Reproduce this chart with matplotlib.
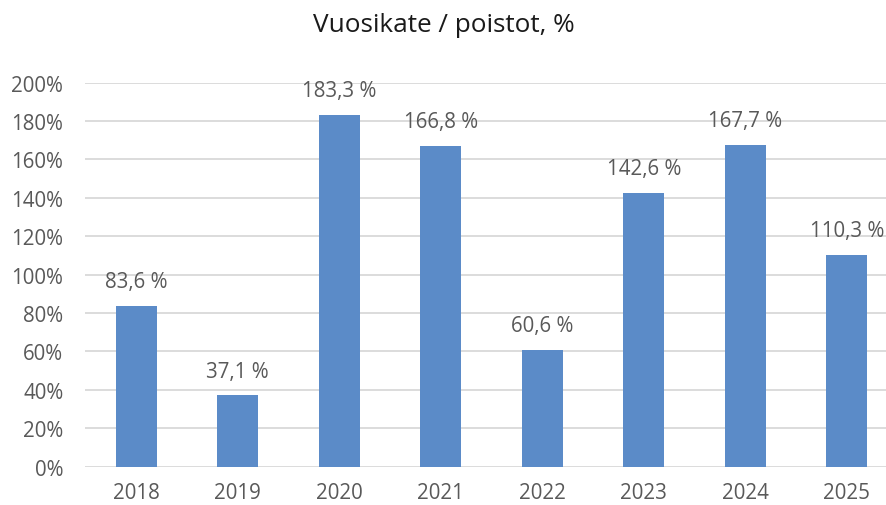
import matplotlib.pyplot as plt
import numpy as np

years = ['2018', '2019', '2020', '2021', '2022', '2023', '2024', '2025']
values = [83.6, 37.1, 183.3, 166.8, 60.6, 142.6, 167.7, 110.3]
yticks = [0, 20, 40, 60, 80, 100, 120, 140, 160, 180, 200]

plt.rcParams['font.family'] = ['Open Sans', 'DejaVu Sans']
grey = '#595959'

fig = plt.figure(figsize=(8.87, 5.06), dpi=100)
ax = fig.add_axes([85.5 / 887, (506 - 467.7) / 506, 812 / 887, 384.2 / 506])

x = np.arange(len(years))
ax.bar(x, values, 0.405, color='#5B8BC8', zorder=2)
for xi, v in zip(x, values):
    ax.annotate(f'{v:.1f} %'.replace('.', ','), (xi, v), xytext=(0, 10),
                textcoords='offset points', ha='center', va='bottom',
                fontsize=14.8, color=grey)

ax.set_xlim(-0.5, len(years) - 0.5)
ax.set_ylim(0, 200)
ax.set_yticks(yticks)
ax.set_yticklabels([f'{t}%' for t in yticks])
ax.set_xticks(x)
ax.set_xticklabels(years)
ax.tick_params(axis='y', length=0, pad=16, labelsize=14.8, labelcolor=grey)
ax.tick_params(axis='x', length=0, pad=11, labelsize=14.8, labelcolor=grey)
ax.grid(axis='y', color='#D9D9D9', linewidth=1.3, zorder=0)
for s in ax.spines.values():
    s.set_visible(False)

fig.text(0.5, 1 - 26 / 506, 'Vuosikate / poistot, %', ha='center', va='center',
         fontsize=18.8, color='#1a1a1a')

plt.savefig('out.png', dpi=100)
